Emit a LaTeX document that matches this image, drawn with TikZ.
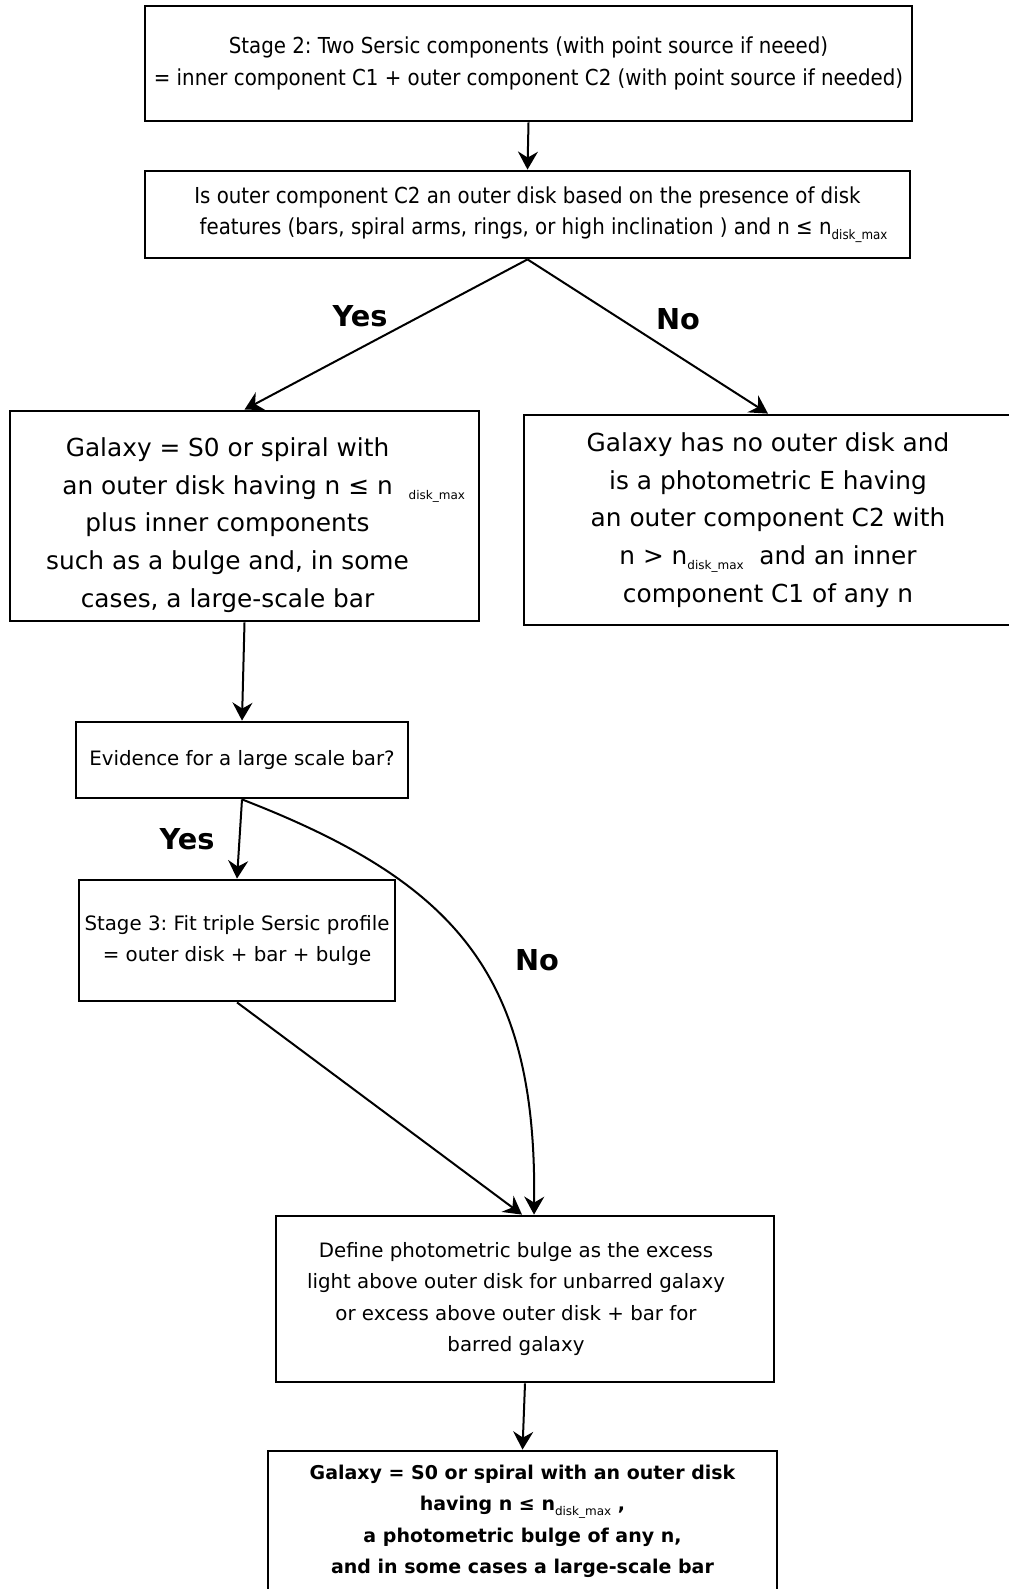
\documentclass[tikz,border=0pt]{standalone}
\usepackage{fontspec}
\setmainfont{DejaVu Sans}
\newfontfamily\condfont{DejaVu Sans Condensed}
\usepackage{tikz}
\usetikzlibrary{arrows.meta}
\newcommand{\dmax}[1][6]{\raisebox{-2.5pt}{\mdseries\fontsize{#1}{#1}\selectfont disk\_max}}
\tikzset{mybox/.style={draw, line width=1.4pt, inner sep=0pt, align=center}}
\tikzset{mytxtCond/.style={font=\condfont\fontsize{11}{15.7}\selectfont, align=center}}
\tikzset{mytxtBig/.style={font=\fontsize{12.4}{18.9}\selectfont, align=center}}
\tikzset{mytxt/.style={font=\fontsize{9.9}{15.7}\selectfont, align=center}}
\tikzset{mytxtBold/.style={font=\bfseries\fontsize{9.5}{15.7}\selectfont, align=center}}
\tikzset{mylabel/.style={font=\bfseries\fontsize{14.4}{17}\selectfont}}
\tikzset{myarrow/.style={-{Stealth[length=9pt, width=10pt, inset=3pt]}, line width=1pt}}
\frenchspacing
\begin{document}
\begin{tikzpicture}[x=0.5pt, y=-0.5pt]

\useasboundingbox (0,0) rectangle (1008,1589);

\node[mybox, mytxtCond, minimum width=383.5pt, minimum height=57.5pt] (stage2) at (528.5, 63.5) {Stage 2: Two Sersic components (with point source if neeed)\\= inner component C1 + outer component C2 (with point source if needed)};

\node[mybox, mytxtCond, minimum width=382.5pt, minimum height=43.5pt] (isdisk) at (527.5, 214.5) {Is outer component C2 an outer disk based on the presence of disk\\\hspace*{16pt}features (bars, spiral arms, rings, or high inclination ) and n ≤ n\dmax[6.6]};

\node[mybox, minimum width=234.5pt, minimum height=105pt, label={[mytxtBig, xshift=-8.5pt, yshift=-4.5pt]center:{Galaxy = S0 or spiral with\\an outer disk having n ≤ n\rlap{\hspace{8pt}\dmax}\\plus inner components\\such as a bulge and, in some\\cases, a large-scale bar}}] (withdisk) at (244.5, 516) {};

\node[mybox, mytxtBig, minimum width=244pt, minimum height=105pt] (nodisk) at (768, 520) {Galaxy has no outer disk and\\is a photometric E having\\an outer component C2 with\\n > n\dmax\ \ and an inner\\component C1 of any n};

\node[mybox, mytxt, minimum width=166pt, minimum height=38pt] (evidence) at (242, 760) {Evidence for a large scale bar?};

\node[mybox, mytxt, minimum width=158pt, minimum height=60.5pt] (stage3) at (237, 940.5) {Stage 3: Fit triple Sersic profile\\= outer disk + bar + bulge};

\node[mybox, minimum width=249pt, minimum height=83pt, label={[mytxt, xshift=-4.5pt]center:{Define photometric bulge as the excess\\light above outer disk for unbarred galaxy\\or excess above outer disk + bar for\\barred galaxy}}] (bulge) at (525, 1299) {};

\node[mybox, mytxtBold, minimum width=254.5pt, minimum height=70.5pt] (final) at (522.5, 1521.5) {Galaxy = S0 or spiral with an outer disk\\having n ≤ n\dmax{} ,\\a photometric bulge of any n,\\and in some cases a large-scale bar};

\node[mylabel] (yes1) at (360, 316) {Yes};
\node[mylabel] (no1) at (678, 319) {No};
\node[mylabel] (yes2) at (187, 839) {Yes};
\node[mylabel] (no2) at (537, 960) {No};

\draw[myarrow] (stage2.south) -- (isdisk.north);
\draw[myarrow] (isdisk.south) -- (withdisk.north);
\draw[myarrow] (isdisk.south) -- (nodisk.north);
\draw[myarrow] (withdisk.south) -- (evidence.north);
\draw[myarrow] (evidence.south) -- (stage3.north);
\draw[myarrow] (evidence.south) .. controls +(214,83) and +(3,-240) .. ([xshift=4.5pt]bulge.north);
\draw[myarrow] (stage3.south) -- ([xshift=-1.5pt]bulge.north);
\draw[myarrow] (bulge.south) -- (final.north);

\end{tikzpicture}
\end{document}
